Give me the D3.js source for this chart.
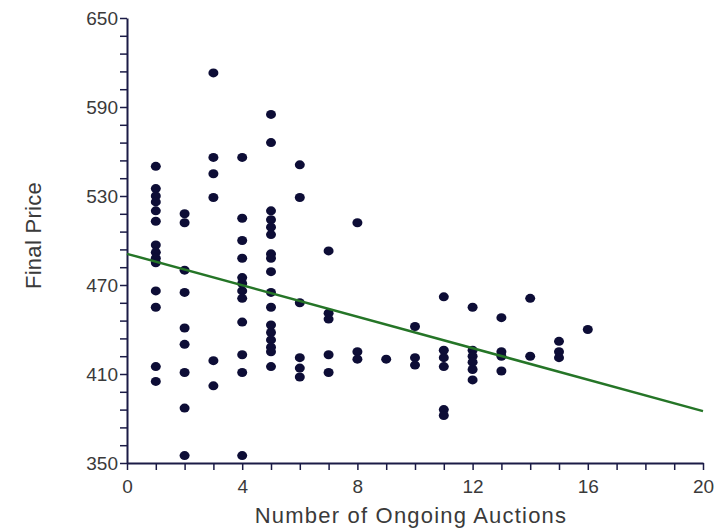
<!DOCTYPE html>
<html>
<head>
<meta charset="utf-8">
<script src="https://cdn.jsdelivr.net/npm/d3@7"></script>
<style>
  html, body { margin: 0; padding: 0; background: #ffffff; }
  svg { display: block; }
  .tick text { font-family: "Liberation Sans", Arial, sans-serif; fill: #3a3a3a; }
</style>
</head>
<body>
<div id="chart"></div>
<script>
// Number of ongoing auctions for each column of points
const auctionCounts = [1, 2, 3, 4, 5, 6, 7, 8, 9, 10, 11, 12, 13, 14, 15, 16];

// Final prices observed at each auction count
const pricesByCount = [
  [550, 535, 530, 526, 520, 513, 497, 492, 488, 485, 466, 455, 415, 405],
  [518, 512, 480, 465, 441, 430, 411, 387, 355],
  [613, 556, 545, 529, 419, 402],
  [556, 515, 500, 488, 475, 471, 466, 461, 445, 423, 411, 355],
  [585, 566, 520, 514, 509, 504, 491, 488, 479, 465, 455, 443, 438, 433, 428, 425, 415],
  [551, 529, 458, 421, 414, 408],
  [493, 451, 447, 423, 411],
  [512, 425, 420],
  [420],
  [442, 421, 416],
  [462, 426, 421, 415, 386, 382],
  [455, 426, 422, 418, 413, 406],
  [448, 425, 422, 412],
  [461, 422],
  [432, 425, 421],
  [440]
];

// Fitted regression line end points
const fitX = [0, 20];
const fitY = [491, 385];

// Axis ticks
const xTicks = d3.range(0, 21, 1);
const xLabels = [0, 4, 8, 12, 16, 20];
const yTicks = d3.range(350, 651, 12);
const yLabels = [350, 410, 470, 530, 590, 650];

const width = 714, height = 531;
const margin = { top: 18, right: 11, bottom: 68, left: 127 };

const svg = d3.select("#chart").append("svg")
  .attr("width", width)
  .attr("height", height);

svg.append("rect").attr("width", width).attr("height", height).attr("fill", "#ffffff");

const x = d3.scaleLinear().domain([0, 20]).range([margin.left, width - margin.right]);
const y = d3.scaleLinear().domain([350, 650]).range([height - margin.bottom, margin.top]);

const axisColor = "#1b1b46";

// X axis
const xAxis = svg.append("g")
  .attr("transform", `translate(0,${y(350)})`)
  .call(d3.axisBottom(x)
    .tickValues(xTicks)
    .tickSize(7)
    .tickSizeOuter(0)
    .tickPadding(3)
    .tickFormat(d => xLabels.includes(d) ? d : ""));
xAxis.select(".domain").attr("stroke", axisColor).attr("stroke-width", 2);
xAxis.selectAll(".tick line").attr("stroke", axisColor).attr("stroke-width", 1.5);
xAxis.selectAll(".tick text").attr("font-size", 19).attr("dy", "1.05em");

// Y axis
const yAxis = svg.append("g")
  .attr("transform", `translate(${x(0)},0)`)
  .call(d3.axisLeft(y)
    .tickValues(yTicks)
    .tickSize(7)
    .tickSizeOuter(0)
    .tickPadding(2)
    .tickFormat(d => yLabels.includes(d) ? d : ""));
yAxis.select(".domain").attr("stroke", axisColor).attr("stroke-width", 2);
yAxis.selectAll(".tick line").attr("stroke", axisColor).attr("stroke-width", 1.5);
yAxis.selectAll(".tick text").attr("font-size", 19);

// Points
const points = [];
auctionCounts.forEach((c, i) => pricesByCount[i].forEach(p => points.push({ c, p })));

svg.append("g")
  .selectAll("ellipse")
  .data(points)
  .join("ellipse")
  .attr("cx", d => x(d.c))
  .attr("cy", d => y(d.p))
  .attr("rx", 5)
  .attr("ry", 4.5)
  .attr("fill", "#0d0d36");

// Regression line
svg.append("line")
  .attr("x1", x(fitX[0]))
  .attr("y1", y(fitY[0]))
  .attr("x2", x(fitX[1]))
  .attr("y2", y(fitY[1]))
  .attr("stroke", "#257527")
  .attr("stroke-width", 2.5);

// Axis titles
svg.append("text")
  .attr("x", (x(0) + x(20)) / 2 - 4)
  .attr("y", 523)
  .attr("text-anchor", "middle")
  .attr("font-family", "'Liberation Sans', Arial, sans-serif")
  .attr("font-size", 22)
  .attr("letter-spacing", 1.2)
  .attr("fill", "#3a3a3a")
  .text("Number of Ongoing Auctions");

svg.append("text")
  .attr("transform", `translate(41,${(y(350) + y(650)) / 2 - 5}) rotate(-90)`)
  .attr("text-anchor", "middle")
  .attr("font-family", "'Liberation Sans', Arial, sans-serif")
  .attr("font-size", 22)
  .attr("letter-spacing", 0.3)
  .attr("fill", "#3a3a3a")
  .text("Final Price");
</script>
</body>
</html>
